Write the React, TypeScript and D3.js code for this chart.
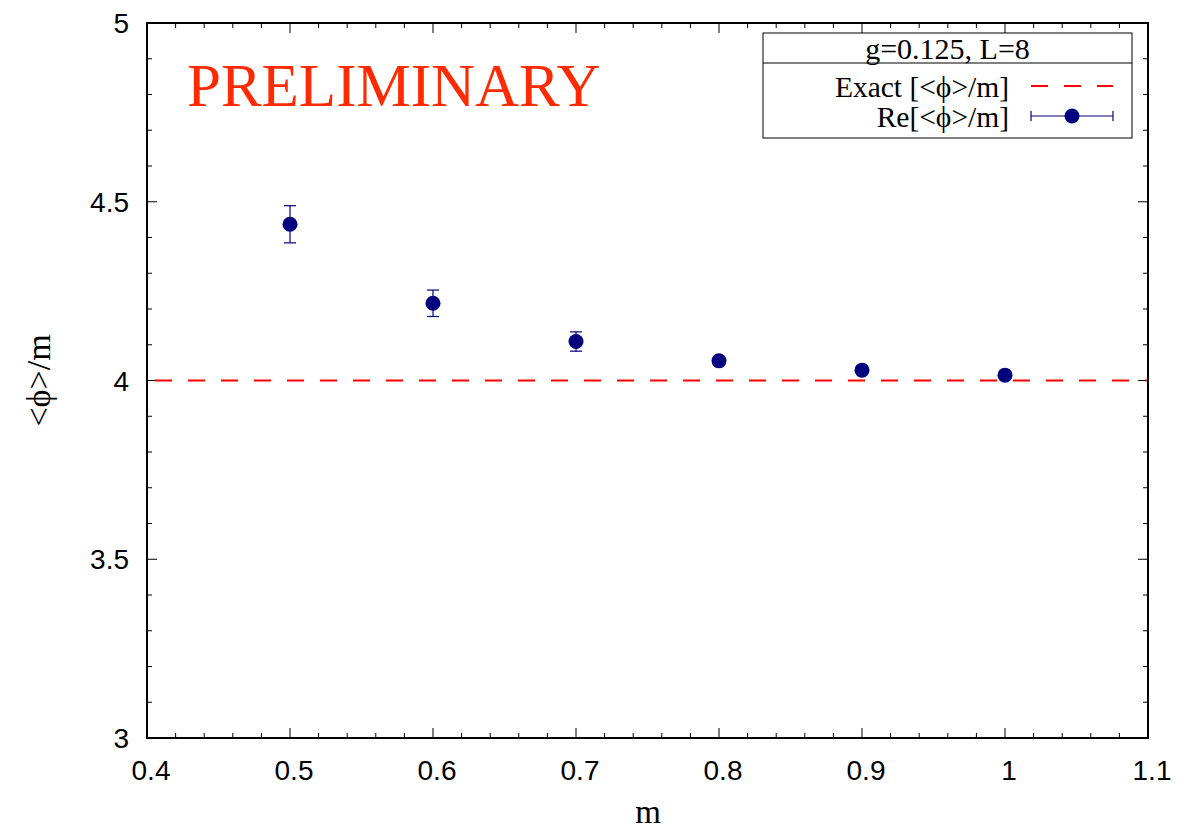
import React from "react";
import * as d3 from "d3";

// Measured <phi>/m against mass m, with statistical errors
const masses = [0.5, 0.6, 0.7, 0.8, 0.9, 1.0];
const phiOverM = [4.437, 4.216, 4.109, 4.055, 4.029, 4.015];
const phiErrors = [0.052, 0.037, 0.027, 0.011, 0.006, 0.005];
const exactValue = 4;

const xTicks = [0.4, 0.5, 0.6, 0.7, 0.8, 0.9, 1.0, 1.1];
const xTickLabels = ["0.4", "0.5", "0.6", "0.7", "0.8", "0.9", "1", "1.1"];
const yTicks = [3, 3.5, 4, 4.5, 5];
const yTickLabels = ["3", "3.5", "4", "4.5", "5"];

const W = 1196;
const H = 831;
const M = { left: 147, right: 1148, top: 23, bottom: 738 };

const SERIF = "'Liberation Serif', 'DejaVu Serif', serif";
const SANS = "'Liberation Sans', Arial, sans-serif";
const NAVY = "#00007f";
const RED = "#ff0000";

export default function App() {
  const x = d3.scaleLinear().domain([0.4, 1.1]).range([M.left, M.right]);
  const y = d3.scaleLinear().domain([3, 5]).range([M.bottom, M.top]);

  const xMinor = d3.range(0.4, 1.1001, 0.02).filter(
    (v) => !xTicks.some((t) => Math.abs(t - v) < 1e-6)
  );
  const yMinor = d3.range(3, 5.0001, 0.1).filter(
    (v) => !yTicks.some((t) => Math.abs(t - v) < 1e-6)
  );

  const MAJ = 10;
  const MIN = 5;

  const legendX0 = 763;
  const legendX1 = 1132;

  return (
    <svg width={W} height={H} style={{ position: "absolute", left: 0, top: 0, background: "#fff" }}>
      {/* ticks on all four sides */}
      {xTicks.map((t) => (
        <g key={"xt" + t}>
          <line x1={x(t)} x2={x(t)} y1={M.bottom} y2={M.bottom - MAJ} stroke="#000" strokeWidth={1} />
          <line x1={x(t)} x2={x(t)} y1={M.top} y2={M.top + MAJ} stroke="#000" strokeWidth={1} />
        </g>
      ))}
      {xMinor.map((t) => (
        <g key={"xm" + t}>
          <line x1={x(t)} x2={x(t)} y1={M.bottom} y2={M.bottom - MIN} stroke="#000" strokeWidth={1} />
          <line x1={x(t)} x2={x(t)} y1={M.top} y2={M.top + MIN} stroke="#000" strokeWidth={1} />
        </g>
      ))}
      {yTicks.map((t) => (
        <g key={"yt" + t}>
          <line x1={M.left} x2={M.left + MAJ} y1={y(t)} y2={y(t)} stroke="#000" strokeWidth={1} />
          <line x1={M.right} x2={M.right - MAJ} y1={y(t)} y2={y(t)} stroke="#000" strokeWidth={1} />
        </g>
      ))}
      {yMinor.map((t) => (
        <g key={"ym" + t}>
          <line x1={M.left} x2={M.left + MIN} y1={y(t)} y2={y(t)} stroke="#000" strokeWidth={1} />
          <line x1={M.right} x2={M.right - MIN} y1={y(t)} y2={y(t)} stroke="#000" strokeWidth={1} />
        </g>
      ))}

      {/* tick labels */}
      {xTicks.map((t, i) => (
        <text key={"xl" + t} x={x(t) + 4} y={780} textAnchor="middle" fontFamily={SANS} fontSize={28} fill="#000">
          {xTickLabels[i]}
        </text>
      ))}
      {yTicks.map((t, i) => (
        <text key={"yl" + t} x={129} y={y(t) + 10} textAnchor="end" fontFamily={SANS} fontSize={28} fill="#000">
          {yTickLabels[i]}
        </text>
      ))}

      {/* axis titles */}
      <text x={648} y={823} textAnchor="middle" fontFamily={SERIF} fontSize={33} fill="#000">m</text>
      <text
        transform={`translate(50, ${y(4)}) rotate(-90)`}
        textAnchor="middle"
        fontFamily={SERIF}
        fontSize={34}
        fill="#000"
      >
        {"<ϕ>/m"}
      </text>

      {/* exact result */}
      <line
        x1={M.left}
        x2={M.right}
        y1={y(exactValue)}
        y2={y(exactValue)}
        stroke={RED}
        strokeWidth={2}
        strokeDasharray="17 16"
        strokeDashoffset={-8}
      />

      {/* measured points with error bars */}
      {masses.map((m, i) => {
        const cx = x(m);
        const lo = y(phiOverM[i] - phiErrors[i]);
        const hi = y(phiOverM[i] + phiErrors[i]);
        return (
          <g key={"p" + m}>
            <line x1={cx} x2={cx} y1={lo} y2={hi} stroke={NAVY} strokeWidth={1.2} />
            <line x1={cx - 6} x2={cx + 6} y1={lo} y2={lo} stroke={NAVY} strokeWidth={1.2} />
            <line x1={cx - 6} x2={cx + 6} y1={hi} y2={hi} stroke={NAVY} strokeWidth={1.2} />
            <circle cx={cx} cy={y(phiOverM[i])} r={7.5} fill={NAVY} />
          </g>
        );
      })}

      {/* watermark */}
      <text x={187} y={106} fontFamily={SERIF} fontSize={61} fill="#ff2a00">PRELIMINARY</text>

      {/* legend */}
      <rect x={legendX0} y={33} width={legendX1 - legendX0} height={105} fill="#fff" stroke="#000" strokeWidth={1} />
      <line x1={legendX0} x2={legendX1} y1={63} y2={63} stroke="#000" strokeWidth={1} />
      <text x={(legendX0 + legendX1) / 2} y={59} textAnchor="middle" fontFamily={SERIF} fontSize={30} fill="#000">
        g=0.125, L=8
      </text>
      <text x={1009} y={97} textAnchor="end" fontFamily={SERIF} fontSize={29.5} fill="#000">
        {"Exact [<ϕ>/m]"}
      </text>
      <line x1={1031} x2={1113} y1={86} y2={86} stroke={RED} strokeWidth={2} strokeDasharray="17 16" />
      <text x={1009} y={127} textAnchor="end" fontFamily={SERIF} fontSize={29.5} fill="#000">
        {"Re[<ϕ>/m]"}
      </text>
      <line x1={1031} x2={1113} y1={116} y2={116} stroke={NAVY} strokeWidth={1.2} />
      <line x1={1031} x2={1031} y1={111} y2={121} stroke={NAVY} strokeWidth={1.2} />
      <line x1={1113} x2={1113} y1={111} y2={121} stroke={NAVY} strokeWidth={1.2} />
      <circle cx={1072} cy={116} r={7.5} fill={NAVY} />

      {/* frame */}
      <rect x={M.left} y={M.top} width={M.right - M.left} height={M.bottom - M.top} fill="none" stroke="#000" strokeWidth={2} />
    </svg>
  );
}
